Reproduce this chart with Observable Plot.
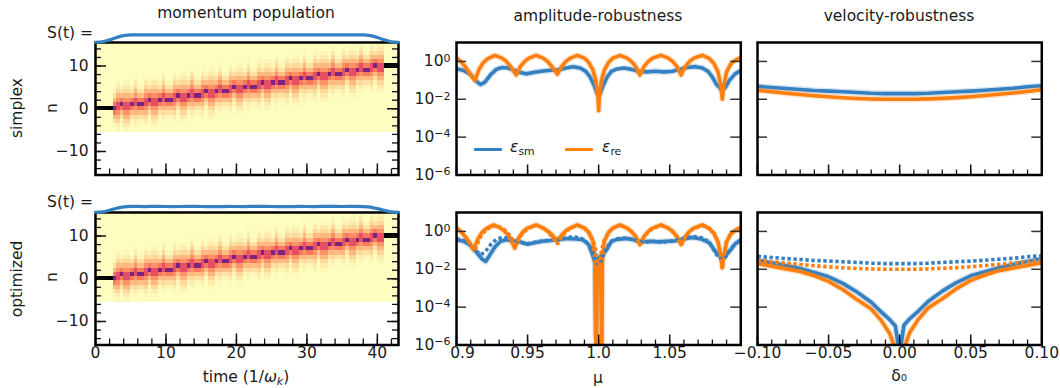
<!DOCTYPE html>
<html><head><meta charset="utf-8">
<script src="https://cdn.jsdelivr.net/npm/d3@7"></script>
<script src="https://cdn.jsdelivr.net/npm/@observablehq/plot@0.6"></script>
<style>
body{margin:0;background:#fff;}
#fig{position:relative;width:1060px;height:388px;font-family:"DejaVu Sans",sans-serif;font-size:15.5px;color:#1a1a1a;overflow:hidden;background:#fff}
.lbl{position:absolute;white-space:nowrap;line-height:1;transform:translate(-50%,-50%)}
.rot{transform:translate(-50%,-50%) rotate(-90deg)}
.rt{position:absolute;white-space:nowrap;line-height:1;transform:translate(-100%,-50%)}
.sw{position:absolute;height:3.6px;border-radius:1px}
sub{font-size:70%;vertical-align:-0.25em;line-height:0}
</style></head><body><div id="fig"></div>
<script>
// ---------------- data ----------------
// momentum population heat map: centre of the population per time column (t = 2.5 ... 41, step 0.5)
const bandStart = 2.5, bandStep = 0.5;
const bandCenter = [0,0.5,1,0.5, 0.5,1,1.5,1, 1,1.5,2,1.5, 1.5,2,2.5,2, 2,2.5,3,2.5,
  2.5,3,3.5,3, 3,3.5,4,3.5, 3.5,4,4.5,4, 4,4.5,5,4.5, 4.5,5,5.5,5,
  5,5.5,6,5.5, 5.5,6,6.5,6, 6,6.5,7,6.5, 6.5,7,7.5,7, 7,7.5,8,7.5,
  7.5,8,8.5,8, 8,8.5,9,8.5, 8.5,9,9.5,9, 9,9.5,10,9.5, 9.5];
// population vs distance from the centre (integer centre / half-integer centre)
const profileWhole = [0.64, 0.28, 0.14, 0.055, 0.018];
const profileHalf  = [0.38, 0.23, 0.15, 0.085, 0.04, 0.014];
const holdStart = {t1: 0, t2: 2.5, n: 0, v: 1};
const holdEnd = {t1: 41, t2: 43, n: 10, v: 1};

// S(t) lattice ramp
const sTimeSimplex = [0,1,2,3,4,5,38,39,40,41,42,43];
const sSimplex     = [0.03,0.1,0.35,0.65,0.9,1,1,0.9,0.65,0.35,0.1,0.03];
const sTimeOpt = [0,1,2,3,4,5,7,9,11,13,15,17,19,21,23,25,27,29,31,33,35,37,38,39,40,41,42,43];
const sOpt     = [0.03,0.08,0.3,0.55,0.74,0.8,0.77,0.8,0.76,0.8,0.78,0.76,0.79,0.77,0.8,0.78,0.76,0.79,0.77,0.8,0.78,0.79,0.77,0.7,0.5,0.28,0.08,0.03];

// amplitude robustness (mu)
const muSimRe = [0.900,0.903,0.906,0.909,0.913,0.916,0.919,0.922,0.927,0.932,0.935,0.938,0.942,0.945,0.948,0.951,0.956,0.961,0.964,0.967,0.971,0.974,0.977,0.980,0.985,0.990,0.993,0.996,0.998,0.9995,1.000,1.0005,1.002,1.004,1.007,1.010,1.015,1.020,1.023,1.026,1.029,1.032,1.035,1.038,1.044,1.049,1.052,1.055,1.058,1.061,1.064,1.067,1.073,1.078,1.081,1.084,1.086,1.087,1.088,1.090,1.093,1.096,1.100];
const reSimplex = [1.5,1.0,0.55,0.25,0.1,0.4,0.9,1.4,2.1,1.5,1.0,0.55,0.19,0.55,1.0,1.5,2.1,1.5,1.0,0.55,0.21,0.55,1.0,1.5,2.1,1.5,0.9,0.35,0.1,0.015,0.0025,0.015,0.1,0.35,0.9,1.5,2.1,1.5,1.0,0.55,0.19,0.55,1.0,1.5,2.1,1.5,1.0,0.55,0.19,0.55,1.0,1.5,2.1,1.4,0.8,0.28,0.05,0.01,0.05,0.28,0.75,1.15,1.6];
const muSimSm = [0.900,0.905,0.910,0.914,0.917,0.920,0.924,0.928,0.932,0.936,0.940,0.944,0.949,0.955,0.961,0.966,0.972,0.977,0.982,0.987,0.991,0.994,0.997,0.999,1.000,1.001,1.003,1.006,1.009,1.013,1.018,1.023,1.028,1.034,1.040,1.046,1.052,1.057,1.062,1.068,1.073,1.077,1.080,1.083,1.086,1.089,1.092,1.096,1.100];
const smSimplex = [0.41,0.33,0.2,0.09,0.06,0.08,0.2,0.38,0.48,0.45,0.36,0.27,0.22,0.27,0.31,0.34,0.36,0.45,0.53,0.45,0.3,0.15,0.05,0.02,0.017,0.02,0.05,0.15,0.3,0.4,0.45,0.38,0.3,0.28,0.3,0.28,0.3,0.38,0.48,0.53,0.45,0.3,0.15,0.06,0.035,0.04,0.1,0.22,0.33];
const muOptRe = [0.900,0.903,0.906,0.909,0.912,0.915,0.918,0.921,0.926,0.931,0.934,0.937,0.941,0.944,0.947,0.950,0.956,0.961,0.964,0.967,0.971,0.974,0.977,0.980,0.985,0.990,0.993,0.996,0.9977,0.9982,0.9990,1.0002,1.0014,1.0022,1.0027,1.004,1.007,1.010,1.015,1.020,1.023,1.026,1.029,1.032,1.035,1.038,1.044,1.049,1.052,1.055,1.058,1.061,1.064,1.067,1.073,1.078,1.081,1.084,1.086,1.087,1.088,1.090,1.093,1.096,1.100];
const reOpt = [1.5,1.0,0.55,0.27,0.11,0.4,0.9,1.4,2.2,1.5,1.0,0.55,0.13,0.5,1.0,1.5,2.2,1.5,1.05,0.7,0.3,0.65,1.1,1.5,2.2,1.5,0.9,0.3,0.03,1e-8,0.008,0.026,0.008,1e-8,0.03,0.3,0.9,1.5,2.2,1.5,1.0,0.55,0.2,0.55,1.0,1.5,2.2,1.5,1.0,0.55,0.2,0.55,1.0,1.5,2.2,1.4,0.8,0.28,0.05,0.012,0.05,0.28,0.75,1.15,1.6];
const muOptSm = [0.900,0.905,0.910,0.914,0.918,0.9205,0.923,0.927,0.931,0.935,0.940,0.945,0.950,0.955,0.960,0.966,0.972,0.978,0.984,0.989,0.993,0.996,0.9975,0.998,0.9985,1.000,1.003,1.006,1.009,1.013,1.020,1.025,1.030,1.036,1.042,1.048,1.054,1.060,1.066,1.072,1.078,1.082,1.085,1.0875,1.090,1.093,1.096,1.100];
const smOpt = [0.36,0.3,0.18,0.08,0.035,0.026,0.05,0.15,0.3,0.36,0.32,0.28,0.21,0.25,0.3,0.33,0.38,0.42,0.4,0.36,0.2,0.05,0.02,3e-6,0.02,0.04,0.06,0.12,0.3,0.38,0.42,0.36,0.28,0.3,0.28,0.3,0.32,0.4,0.48,0.4,0.25,0.09,0.05,0.04,0.06,0.11,0.22,0.36];

// velocity robustness (delta0)
const delta = [-0.1,-0.09,-0.08,-0.07,-0.06,-0.05,-0.04,-0.03,-0.02,-0.01,0,0.01,0.02,0.03,0.04,0.05,0.06,0.07,0.08,0.09,0.1];
const velSmSimplex = [0.048,0.042,0.037,0.033,0.029,0.027,0.025,0.023,0.021,0.020,0.020,0.020,0.021,0.023,0.025,0.027,0.030,0.034,0.038,0.046,0.052];
const velReSimplex = [0.0295,0.025,0.021,0.018,0.0155,0.0135,0.012,0.011,0.0104,0.0101,0.010,0.0101,0.0105,0.0112,0.0122,0.0137,0.0157,0.0183,0.0215,0.026,0.0316];
const deltaOpt = [-0.1,-0.09,-0.08,-0.07,-0.06,-0.05,-0.04,-0.03,-0.02,-0.013,-0.007,-0.003,-0.001,0,0.001,0.003,0.007,0.013,0.02,0.03,0.04,0.05,0.06,0.07,0.08,0.09,0.1];
const velSmOpt = [0.030,0.022,0.016,0.011,0.0068,0.004,0.0018,6.3e-4,1.8e-4,5.6e-5,2.2e-5,1e-5,1e-6,1e-8,1e-6,1.1e-5,2.4e-5,6e-5,2e-4,7e-4,2e-3,0.0045,0.0075,0.012,0.018,0.026,0.036];
const velReOpt = [0.020,0.0145,0.0105,0.0076,0.0045,0.0023,8.5e-4,2.5e-4,8e-5,2e-5,4e-6,6e-7,5e-8,1e-9,5e-8,6.5e-7,4.4e-6,2.2e-5,9e-5,2.8e-4,9.5e-4,0.0026,0.005,0.0085,0.0118,0.016,0.022];

// ticks
const tMajor = [0,10,20,30,40];
const nMajor = [-10,0,10];
const muMajor = [0.9,0.95,1.0,1.05,1.1];
const muLabels = ["0.9","0.95","1.0","1.05"];
const dMajor = [-0.1,-0.05,0,0.05,0.1];
const dLabels = ["−0.10","−0.05","0.00","0.05","0.10"];
const logTicks = [1,1e-2,1e-4,1e-6];
const logExps = ["0","−2","−4","−6"];

// ---------------- drawing ----------------
const fig = document.getElementById("fig");
const BLUE = "#3580c1", ORANGE = "#ff7f0e";
const style = {background:"transparent", fontFamily:"DejaVu Sans, sans-serif", fontSize:"15.5px", color:"#1a1a1a", overflow:"visible"};
const pts = (xs, ys) => xs.map((x,i)=>({x, y: ys[i]}));

function addSvg(svg, left, top){ svg.style.position="absolute"; svg.style.left=left+"px"; svg.style.top=top+"px"; fig.appendChild(svg); }
function addText(html, x, y, cls){ const d=document.createElement("div"); d.className=cls||"lbl"; d.innerHTML=html; d.style.left=x+"px"; d.style.top=y+"px"; fig.appendChild(d); }

function profileAt(d){
  const whole = Math.abs(d - Math.round(d)) < 1e-9;
  const p = whole ? profileWhole : profileHalf;
  const i = Math.round(whole ? d : d - 0.5);
  return i < p.length ? p[i] : 0;
}
const cells = [holdStart, holdEnd];
bandCenter.forEach((c, i) => {
  const t1 = bandStart + i*bandStep;
  for (let n = -5; n <= 15; n++) {
    const v = profileAt(Math.abs(n - c));
    if (v > 0.004) cells.push({t1, t2: t1 + bandStep, n, v});
  }
});
const bg = [{t1:0, t2:43, n1:-5.5, n2:15.5, v:0}];

const FH = 132.5;
function leftPanel(frameTop, showX, sT, sV){
  const fx=95, fw=303, mL=50, mR=10, mT=4, mB= showX?26:4;
  const svg = Plot.plot({
    width: mL+fw+mR, height: mT+FH+mB, marginLeft:mL, marginRight:mR, marginTop:mT, marginBottom:mB, style,
    x:{domain:[0,43], axis:null}, y:{domain:[-15.5,15.5], axis:null},
    color:{type:"linear", scheme:"magma", reverse:true, domain:[0,1]},
    marks:[
      Plot.rect(bg, {x1:"t1", x2:"t2", y1:"n1", y2:"n2", fill:"v"}),
      Plot.rect(cells, {x1:"t1", x2:"t2", y1:d=>d.n-0.5, y2:d=>d.n+0.5, fill:"v", shapeRendering:"crispEdges"}),
      Plot.tickX(d3.range(0,43,2), {x:d=>d, insetTop:FH-6, stroke:"#111", strokeWidth:1.3}),
      Plot.tickX(tMajor, {x:d=>d, insetTop:FH-11, stroke:"#111", strokeWidth:1.5}),
      Plot.tickY(d3.range(-14,15,2), {y:d=>d, insetRight:fw-6, stroke:"#111", strokeWidth:1.3}),
      Plot.tickY(d3.range(-14,15,2), {y:d=>d, insetLeft:fw-6, stroke:"#111", strokeWidth:1.3}),
      Plot.tickY(nMajor, {y:d=>d, insetRight:fw-11, stroke:"#111", strokeWidth:1.5}),
      Plot.tickY(nMajor, {y:d=>d, insetLeft:fw-11, stroke:"#111", strokeWidth:1.5}),
      Plot.text(nMajor, {y:d=>d, frameAnchor:"left", textAnchor:"end", dx:-7, fill:"#1a1a1a", text:d=> d<0 ? "−"+Math.abs(d) : String(d)}),
      showX ? Plot.text(tMajor, {x:d=>d, frameAnchor:"bottom", dy:13, fill:"#1a1a1a", text:d=>String(d)}) : null,
      Plot.frame({stroke:"#000", strokeWidth:2.5})
    ].filter(Boolean)
  });
  addSvg(svg, fx-mL, frameTop-mT);
  // S(t) strip above the panel
  const sSvg = Plot.plot({
    width: 313, height: 16, style,
    x:{domain:[0,43], range:[5,308], axis:null}, y:{domain:[0,1], range:[14,6.3], axis:null},
    marks:[ Plot.line(pts(sT,sV), {x:"x", y:"y", stroke:BLUE, strokeWidth:3.2, curve:"monotone-x"}) ]
  });
  addSvg(sSvg, fx-5, frameTop-14);
}

function curveMarks(data, color, dashed){
  const base = {x:"x", y:"y", stroke:color, clip:true, strokeLinejoin:"round"};
  if (dashed) return [Plot.line(data, {...base, strokeWidth:3.6, strokeDasharray:"3.4,2.6", strokeLinecap:"butt", strokeLinejoin:"miter"})];
  return [Plot.line(data, {...base, strokeWidth:6.2, strokeOpacity:0.22}), Plot.line(data, {...base, strokeWidth:3.6})];
}

function robustPanel({fx, fw, frameTop, showX, xDomain, xMinor, xMajor, xTickVals, xTickLabels, xTickDx, yLabels, series, mL, mR}){
  const mT=4, mB= showX?26:4;
  const marks = [];
  series.forEach(s => marks.push(...curveMarks(s.data, s.color, s.dashed)));
  marks.push(
    Plot.tickX(xMinor, {x:d=>d, insetTop:FH-5, stroke:"#111", strokeWidth:1.3}),
    Plot.tickX(xMajor, {x:d=>d, insetTop:FH-10, stroke:"#111", strokeWidth:1.5}),
    Plot.tickY(logTicks.slice(0,3), {y:d=>d, insetRight:fw-10, stroke:"#333", strokeWidth:1.5}),
    Plot.tickY(logTicks.slice(0,3), {y:d=>d, insetLeft:fw-10, stroke:"#333", strokeWidth:1.5})
  );
  if (yLabels) marks.push(Plot.text(logTicks, {y:d=>d, frameAnchor:"left", textAnchor:"end", dx:-6, fill:"#1a1a1a", text:(d,i)=>"10^"+logExps[i]}));
  if (showX) {
    xTickVals.forEach((v,i) => marks.push(Plot.text([v], {x:d=>d, frameAnchor:"bottom", dy:13, dx:(xTickDx?xTickDx[i]:0), fill:"#1a1a1a", text:()=>xTickLabels[i]})));
  }
  marks.push(Plot.frame({stroke:"#000", strokeWidth:2.5}));
  const svg = Plot.plot({
    width: mL+fw+mR, height: mT+FH+mB, marginLeft:mL, marginRight:mR, marginTop:mT, marginBottom:mB, style,
    x:{domain:xDomain, axis:null}, y:{type:"log", domain:[1e-6,10], axis:null},
    marks
  });
  // typeset powers of ten as base + raised exponent
  svg.querySelectorAll("text").forEach(t => {
    const s = t.textContent;
    if (s.startsWith("10^")) {
      const tgt = t.querySelector("tspan") || t;
      tgt.textContent = "10";
      const sup = document.createElementNS("http://www.w3.org/2000/svg", "tspan");
      sup.setAttribute("dy", "-0.42em");
      sup.setAttribute("font-size", "11px");
      sup.textContent = s.slice(3);
      tgt.appendChild(sup);
    }
  });
  addSvg(svg, fx-mL, frameTop-mT);
}

const TOP1 = 42, TOP2 = 211.5;
leftPanel(TOP1, false, sTimeSimplex, sSimplex);
leftPanel(TOP2, true, sTimeOpt, sOpt);

const muMinor = d3.range(0,21).map(i => 0.9 + i*0.01);
const dMinor = d3.range(0,21).map(i => -0.1 + i*0.01);
const simSeriesMu = [
  {data: pts(muSimSm, smSimplex), color: BLUE},
  {data: pts(muSimRe, reSimplex), color: ORANGE}
];
const optSeriesMu = [
  {data: pts(muOptSm, smOpt), color: BLUE},
  {data: pts(muOptRe, reOpt), color: ORANGE},
  {data: pts(muSimSm, smSimplex), color: BLUE, dashed: true},
  {data: pts(muSimRe, reSimplex), color: ORANGE, dashed: true}
];
const simSeriesD = [
  {data: pts(delta, velSmSimplex), color: BLUE},
  {data: pts(delta, velReSimplex), color: ORANGE}
];
const optSeriesD = [
  {data: pts(deltaOpt, velSmOpt), color: BLUE},
  {data: pts(deltaOpt, velReOpt), color: ORANGE},
  {data: pts(delta, velSmSimplex), color: BLUE, dashed: true},
  {data: pts(delta, velReSimplex), color: ORANGE, dashed: true}
];
const mid = {fx:455.7, fw:284.3, xDomain:[0.9,1.1], xMinor:muMinor, xMajor:muMajor, xTickVals:muMajor.slice(0,4), xTickLabels:muLabels, xTickDx:[6,0,0,0], yLabels:true, mL:58, mR:4};
const rgt = {fx:756.7, fw:284.3, xDomain:[-0.1,0.1], xMinor:dMinor, xMajor:dMajor, xTickVals:dMajor, xTickLabels:dLabels, yLabels:false, mL:20, mR:19};
robustPanel({...mid, frameTop:TOP1, showX:false, series:simSeriesMu});
robustPanel({...mid, frameTop:TOP2, showX:true, series:optSeriesMu});
robustPanel({...rgt, frameTop:TOP1, showX:false, series:simSeriesD});
robustPanel({...rgt, frameTop:TOP2, showX:true, series:optSeriesD});

// text
addText("momentum population", 246, 13.5);
addText("amplitude-robustness", 598, 16.5);
addText("velocity-robustness", 899, 16.5);
addText("simplex", 18, 108, "lbl rot");
addText("optimized", 18, 279, "lbl rot");
addText("n", 53, 108, "lbl rot");
addText("n", 53, 277, "lbl rot");
addText("S(t) =", 93, 34, "rt");
addText("S(t) =", 93, 202.5, "rt");
addText("time (1/<i>ω</i><sub><i>k</i></sub>)", 246, 378);
addText("μ", 598, 379);
addText("δ₀", 899, 377);
// legend
function swatch(x, y, color){ const d=document.createElement("div"); d.className="sw"; d.style.left=x+"px"; d.style.top=(y-1.8)+"px"; d.style.width="28px"; d.style.background=color; fig.appendChild(d); }
swatch(474, 149.3, BLUE);
swatch(565, 149.3, ORANGE);
const l1=document.createElement("div"); l1.style.cssText="position:absolute;left:510px;top:140px;line-height:1;white-space:nowrap"; l1.innerHTML="<i>ε</i><sub>sm</sub>"; fig.appendChild(l1);
const l2=document.createElement("div"); l2.style.cssText="position:absolute;left:602px;top:140px;line-height:1;white-space:nowrap"; l2.innerHTML="<i>ε</i><sub>re</sub>"; fig.appendChild(l2);
</script></body></html>
